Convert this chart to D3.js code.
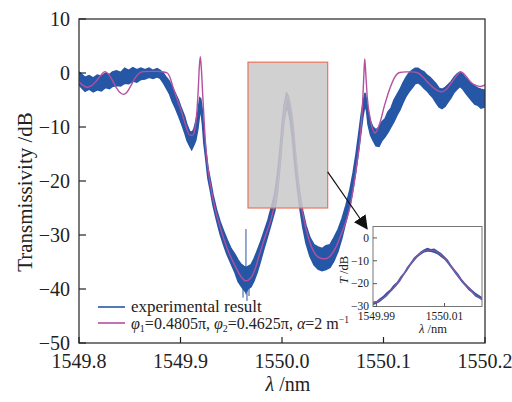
<!DOCTYPE html>
<html><head><meta charset="utf-8">
<script src="https://cdn.jsdelivr.net/npm/d3@7"></script>
<style>
html,body{margin:0;padding:0;background:#fff;}
svg{display:block;}
text{font-family:"Liberation Serif","Times New Roman","DejaVu Serif",serif;fill:#222;}
</style></head>
<body>
<svg id="chart" width="512" height="402" font-family="Liberation Serif, Times New Roman, serif"></svg>
<script>
// ---------- data ----------
const xTicks = [1549.8, 1549.9, 1550.0, 1550.1, 1550.2];
const yTicks = [10, 0, -10, -20, -30, -40, -50];

// theory curve (magenta)
const fitX = [1549.800,1549.804,1549.808,1549.812,1549.817,1549.822,1549.8256,1549.829,1549.833,1549.837,1549.841,1549.8436,1549.847,1549.851,1549.855,1549.859,1549.8633,1549.870,1549.877,1549.883,1549.887,1549.890,1549.8926,1549.896,1549.900,1549.905,1549.909,1549.912,1549.914,1549.916,1549.9175,1549.9185,1549.9195,1549.9205,1549.922,1549.9235,1549.925,1549.927,1549.932,1549.939,1549.946,1549.954,1549.960,1549.9645,1549.969,1549.974,1549.978,1549.983,1549.989,1549.993,1549.997,1550.000,1550.002,1550.0045,1550.006,1550.008,1550.011,1550.014,1550.0166,1550.021,1550.026,1550.032,1550.038,1550.043,1550.048,1550.053,1550.058,1550.063,1550.067,1550.071,1550.074,1550.077,1550.079,1550.0805,1550.0815,1550.0825,1550.084,1550.087,1550.0915,1550.096,1550.101,1550.106,1550.111,1550.116,1550.122,1550.128,1550.134,1550.139,1550.145,1550.151,1550.157,1550.162,1550.167,1550.172,1550.1765,1550.181,1550.186,1550.191,1550.195,1550.200];
const fitY = [-1.6,-2.3,-2.65,-2.4,-1.5,-0.3,0.25,-0.2,-1.4,-2.8,-3.7,-3.95,-3.6,-2.4,-1.0,-0.1,0.25,0.3,0.3,0.2,0.0,-1.0,-2.6,-4.5,-6.6,-9.6,-11.5,-11.5,-10.5,-7.5,-3.0,1.0,3.0,1.0,-4.5,-9.5,-14.0,-17.5,-23.3,-28.5,-32.5,-35.8,-37.8,-38.5,-38.0,-36.0,-33.5,-30.5,-27.2,-24.0,-18.8,-11.8,-8.0,-5.0,-4.3,-5.6,-9.5,-16.0,-21.3,-26.6,-30.5,-33.3,-34.3,-34.4,-33.8,-32.3,-30.0,-27.5,-24.8,-20.5,-16.5,-12.0,-7.0,-1.0,2.6,0.0,-4.5,-8.5,-11.1,-9.5,-6.0,-3.0,-0.8,0.1,0.2,0.2,0.0,-0.8,-2.0,-3.0,-3.5,-3.0,-1.8,-0.5,0.2,-0.5,-1.7,-2.3,-2.5,-2.2];

// experimental result (blue): upper and lower edge of the noisy trace
const expX = [1549.800,1549.803,1549.806,1549.810,1549.814,1549.818,1549.822,1549.826,1549.830,1549.833,1549.837,1549.841,1549.845,1549.849,1549.853,1549.857,1549.861,1549.865,1549.869,1549.873,1549.877,1549.880,1549.883,1549.886,1549.889,1549.892,1549.895,1549.898,1549.901,1549.904,1549.9064,1549.909,1549.911,1549.913,1549.915,1549.917,1549.919,1549.920,1549.9216,1549.923,1549.9246,1549.927,1549.9296,1549.932,1549.9355,1549.939,1549.9424,1549.9458,1549.9498,1549.9537,1549.9567,1549.9596,1549.9626,1549.9645,1549.9665,1549.9695,1549.9724,1549.9754,1549.9783,1549.9823,1549.9862,1549.990,1549.993,1549.9956,1549.998,1550.000,1550.002,1550.0044,1550.0062,1550.0081,1550.0101,1550.012,1550.0145,1550.0175,1550.0204,1550.0236,1550.0276,1550.0315,1550.0355,1550.0394,1550.0433,1550.0473,1550.0512,1550.0552,1550.0591,1550.063,1550.067,1550.070,1550.0729,1550.0754,1550.0778,1550.0798,1550.0818,1550.0833,1550.0847,1550.0872,1550.0897,1550.0926,1550.0956,1550.0985,1550.1015,1550.1044,1550.1074,1550.1103,1550.1133,1550.1163,1550.1192,1550.1222,1550.1251,1550.1281,1550.1311,1550.134,1550.137,1550.1399,1550.1429,1550.1458,1550.1488,1550.1517,1550.1547,1550.1576,1550.1606,1550.1635,1550.1665,1550.1695,1550.1724,1550.1754,1550.1783,1550.1813,1550.1842,1550.1872,1550.1901,1550.1931,1550.196,1550.200];
const expHi = [0.2,-0.3,-0.8,-0.5,-0.9,-0.4,-0.6,0.0,-0.3,0.2,0.4,0.1,0.9,0.5,1.0,0.6,0.9,0.6,0.9,0.5,0.8,0.5,0.0,-0.8,-1.5,-2.6,-3.8,-5.0,-6.6,-8.0,-9.6,-10.8,-11.0,-10.5,-9.0,-7.2,-4.6,-4.8,-7.0,-11.0,-13.5,-17.5,-20.0,-22.5,-25.3,-27.5,-29.2,-30.8,-32.5,-33.6,-34.6,-35.4,-35.8,-36.0,-35.8,-35.5,-34.4,-33.0,-31.6,-29.4,-27.2,-24.5,-22.0,-18.5,-14.0,-9.5,-6.0,-3.7,-4.2,-6.5,-9.0,-13.0,-17.5,-22.0,-25.5,-28.2,-30.5,-31.8,-32.2,-32.5,-32.0,-31.8,-30.5,-29.0,-27.0,-24.5,-21.5,-18.5,-15.0,-11.5,-8.0,-5.5,-3.7,-5.0,-7.0,-9.0,-10.0,-10.5,-10.0,-9.0,-8.5,-7.2,-6.5,-5.0,-4.0,-3.0,-1.8,-0.8,0.0,0.5,0.9,0.9,0.5,0.2,-0.4,-0.8,-1.4,-2.0,-2.8,-3.0,-2.7,-2.2,-1.6,-0.8,-0.2,0.2,-0.3,-1.0,-1.5,-2.0,-2.5,-2.8,-3.0,-3.2];
const expLo = [-2.2,-2.8,-3.4,-3.0,-3.5,-3.1,-3.3,-2.7,-2.9,-2.5,-2.3,-2.4,-1.9,-2.0,-1.5,-1.7,-1.2,-1.1,-0.8,-1.0,-0.7,-1.0,-1.8,-2.8,-3.8,-5.3,-6.5,-7.9,-9.4,-11.0,-12.5,-13.5,-14.2,-13.4,-12.5,-10.5,-7.5,-6.8,-9.5,-13.0,-15.5,-19.5,-22.0,-24.5,-27.3,-29.8,-31.8,-33.6,-35.3,-37.0,-38.6,-39.4,-40.2,-40.6,-40.0,-39.6,-38.5,-37.0,-35.2,-32.5,-30.0,-27.5,-25.5,-22.0,-17.5,-13.0,-9.0,-6.5,-7.0,-9.0,-12.0,-16.0,-20.5,-25.0,-28.5,-31.5,-34.0,-35.5,-36.3,-36.6,-36.4,-36.0,-34.8,-33.0,-30.5,-27.5,-24.5,-21.5,-18.0,-14.5,-11.0,-8.0,-6.0,-7.0,-9.5,-11.5,-12.5,-13.5,-13.6,-12.5,-11.8,-11.0,-10.0,-9.0,-7.8,-6.8,-5.5,-4.3,-3.5,-2.8,-2.0,-1.8,-2.2,-2.8,-3.3,-4.0,-4.6,-5.5,-6.3,-6.6,-6.2,-5.4,-4.6,-3.6,-3.0,-2.5,-3.0,-3.8,-4.5,-5.2,-5.8,-6.0,-6.5,-6.3];
// narrow spikes in the measured trace around the bottom of the dip
const spikeX = [1549.9645, 1549.9616, 1549.9655, 1549.9675];
const spikeTop = [-28.9, -39.5, -40.0, -39.5];
const spikeBottom = [-41.0, -41.6, -42.2, -41.3];

// zoom box and arrow (data units)
const boxX = [1549.9665, 1550.045];
const boxY = [2, -25];
const arrowFrom = [1550.045, -18.3];
const arrowTo = [1550.0837, -28.8];

// inset data
const insetXTicks = [1549.99, 1550.01];
const insetYTicks = [0, -10, -20, -30];
const inX = [1549.989,1549.990,1549.991,1549.992,1549.993,1549.994,1549.995,1549.996,1549.997,1549.998,1549.999,1550.000,1550.001,1550.002,1550.003,1550.004,1550.005,1550.006,1550.007,1550.008,1550.009,1550.010,1550.011,1550.012,1550.013,1550.014,1550.015,1550.016,1550.017,1550.018,1550.019,1550.020,1550.021];
const inHi = [-27.8,-27.6,-26.4,-25.3,-23.8,-22.6,-20.6,-19.3,-17.0,-15.2,-12.7,-10.8,-8.6,-7.3,-5.9,-5.0,-4.3,-4.8,-4.6,-5.6,-6.6,-8.0,-9.6,-11.8,-13.8,-15.6,-17.9,-19.6,-21.1,-22.6,-23.9,-24.9,-25.8];
const inLo = [-29.4,-28.8,-28.0,-26.8,-25.6,-24.0,-22.4,-20.8,-18.9,-16.6,-14.5,-12.2,-10.3,-8.6,-7.4,-6.4,-6.0,-6.2,-6.6,-7.2,-8.4,-9.6,-11.4,-13.4,-15.4,-17.4,-19.4,-21.0,-22.8,-24.0,-25.6,-26.4,-27.4];
const inFitX = [1549.989,1549.991,1549.993,1549.995,1549.997,1549.999,1550.001,1550.003,1550.005,1550.007,1550.009,1550.011,1550.013,1550.015,1550.017,1550.019,1550.021];
const inFitY = [-28.6,-27.3,-25.0,-21.8,-18.0,-13.6,-9.4,-6.6,-5.3,-5.6,-7.5,-10.6,-14.6,-18.6,-22.0,-24.8,-26.8];

// ---------- drawing ----------
const BLUE = "#2656a6", MAG = "#b4509f";
const svg = d3.select("#chart");
const x = d3.scaleLinear().domain([1549.8, 1550.2]).range([79, 485]);
const y = d3.scaleLinear().domain([-50, 10]).range([343, 19]);

const defs = svg.append("defs");
defs.append("clipPath").attr("id","mainclip")
  .append("rect").attr("x",79).attr("y",19).attr("width",406).attr("height",324);

const g = svg.append("g").attr("clip-path","url(#mainclip)");
const idx = d3.range(expX.length);
g.append("path").attr("d", d3.area().x(i=>x(expX[i])).y0(i=>y(expLo[i])).y1(i=>y(expHi[i]))(idx))
  .attr("fill", BLUE).attr("stroke","none");
[expHi, expLo].forEach(arr=>{
  g.append("path").attr("d", d3.line().x(i=>x(expX[i])).y(i=>y(arr[i]))(idx))
    .attr("fill","none").attr("stroke",BLUE).attr("stroke-width",1.5);
});
spikeX.forEach((s,i)=>{
  g.append("line").attr("x1",x(s)).attr("x2",x(s)).attr("y1",y(spikeBottom[i])).attr("y2",y(spikeTop[i]))
    .attr("stroke",BLUE).attr("stroke-width",1);
});
g.append("path").attr("d", d3.line().curve(d3.curveMonotoneX).x((d,i)=>x(fitX[i])).y(d=>y(d))(fitY))
  .attr("fill","none").attr("stroke",MAG).attr("stroke-width",1.4);

// zoom box (semi-transparent over curves)
svg.append("rect").attr("x",x(boxX[0])).attr("y",y(boxY[0]))
  .attr("width",x(boxX[1])-x(boxX[0])).attr("height",y(boxY[1])-y(boxY[0]))
  .attr("fill","#c9c9c9").attr("fill-opacity",0.86).attr("stroke","#e8735f").attr("stroke-width",1.2);

// frame
svg.append("rect").attr("x",79).attr("y",19).attr("width",406).attr("height",324)
  .attr("fill","none").attr("stroke","#333").attr("stroke-width",1.3);

// ticks
xTicks.forEach(t=>{
  svg.append("line").attr("x1",x(t)).attr("x2",x(t)).attr("y1",343).attr("y2",337).attr("stroke","#222").attr("stroke-width",1.2);
  svg.append("text").attr("x",x(t)).attr("y",368).attr("text-anchor","middle").attr("font-size",20).text(t.toFixed(1));
});
yTicks.forEach(t=>{
  svg.append("line").attr("x1",79).attr("x2",86).attr("y1",y(t)).attr("y2",y(t)).attr("stroke","#222").attr("stroke-width",1.2);
  svg.append("text").attr("x",70).attr("y",y(t)).attr("dy","0.35em").attr("text-anchor","end").attr("font-size",20)
    .text(d3.format("")(t).replace("-","\u2212"));
});
svg.append("text").attr("transform","translate(32,192) rotate(-90)").attr("text-anchor","middle")
  .attr("font-size",21).text("Transmissivity /dB");
svg.append("text").attr("x",288).attr("y",391).attr("text-anchor","middle").attr("font-size",20)
  .html('<tspan font-style="italic">λ</tspan> /nm');

// legend
svg.append("line").attr("x1",98).attr("x2",125).attr("y1",307).attr("y2",307).attr("stroke",BLUE).attr("stroke-width",1.6);
svg.append("line").attr("x1",98).attr("x2",125).attr("y1",323).attr("y2",323).attr("stroke",MAG).attr("stroke-width",1.6);
svg.append("text").attr("x",131).attr("y",311.5).attr("font-size",17).text("experimental result");
svg.append("text").attr("x",131).attr("y",328.5).attr("font-size",16)
  .html('<tspan font-style="italic">φ</tspan><tspan font-size="10" dy="3">1</tspan><tspan dy="-3">=0.4805π, </tspan><tspan font-style="italic">φ</tspan><tspan font-size="10" dy="3">2</tspan><tspan dy="-3">=0.4625π, </tspan><tspan font-style="italic">α</tspan><tspan>=2 m</tspan><tspan font-size="9.5" dy="-6">−1</tspan>');

// arrow
defs.append("marker").attr("id","ah").attr("viewBox","0 0 10 10").attr("refX",9).attr("refY",5)
  .attr("markerWidth",14).attr("markerHeight",14).attr("markerUnits","userSpaceOnUse").attr("orient","auto")
  .append("path").attr("d","M0,0 L10,5 L0,10 Z").attr("fill","#111");
svg.append("line").attr("x1",x(arrowFrom[0])).attr("y1",y(arrowFrom[1])).attr("x2",x(arrowTo[0])).attr("y2",y(arrowTo[1]))
  .attr("stroke","#111").attr("stroke-width",1.2).attr("marker-end","url(#ah)");

// inset
const ix = d3.scaleLinear().domain([1549.989, 1550.021]).range([373, 482]);
const iy = d3.scaleLinear().domain([-30, 5]).range([306.5, 226.5]);
svg.append("rect").attr("x",373).attr("y",226.5).attr("width",109).attr("height",80).attr("fill","#fff");
defs.append("clipPath").attr("id","inclip").append("rect").attr("x",373).attr("y",226.5).attr("width",109).attr("height",80);
const ig = svg.append("g").attr("clip-path","url(#inclip)");
const iidx = d3.range(inX.length);
ig.append("path").attr("d", d3.area().x(i=>ix(inX[i])).y0(i=>iy(inLo[i])).y1(i=>iy(inHi[i]))(iidx)).attr("fill",BLUE);
ig.append("path").attr("d", d3.line().curve(d3.curveMonotoneX).x((d,i)=>ix(inFitX[i])).y(d=>iy(d))(inFitY))
  .attr("fill","none").attr("stroke",MAG).attr("stroke-width",1.1).attr("stroke-opacity",0.85);
svg.append("rect").attr("x",373).attr("y",226.5).attr("width",109).attr("height",80)
  .attr("fill","none").attr("stroke","#777").attr("stroke-width",1);
insetYTicks.forEach(t=>{
  svg.append("line").attr("x1",373).attr("x2",377).attr("y1",iy(t)).attr("y2",iy(t)).attr("stroke","#555");
  svg.append("text").attr("x",369).attr("y",iy(t)).attr("dy","0.33em").attr("text-anchor","end").attr("font-size",11.5)
    .text(String(t).replace("-","\u2212"));
});
insetXTicks.forEach(t=>{
  svg.append("line").attr("x1",ix(t)).attr("x2",ix(t)).attr("y1",306.5).attr("y2",303).attr("stroke","#555");
  svg.append("text").attr("x",ix(t)).attr("y",319.5).attr("text-anchor","middle").attr("font-size",11.5).text(t.toFixed(2));
});
svg.append("text").attr("transform","translate(348,270) rotate(-90)").attr("text-anchor","middle").attr("font-size",12.5)
  .html('<tspan font-style="italic">T</tspan> /dB');
svg.append("text").attr("x",433).attr("y",333).attr("text-anchor","middle").attr("font-size",12.5)
  .html('<tspan font-style="italic">λ</tspan> /nm');
</script>
</body></html>
